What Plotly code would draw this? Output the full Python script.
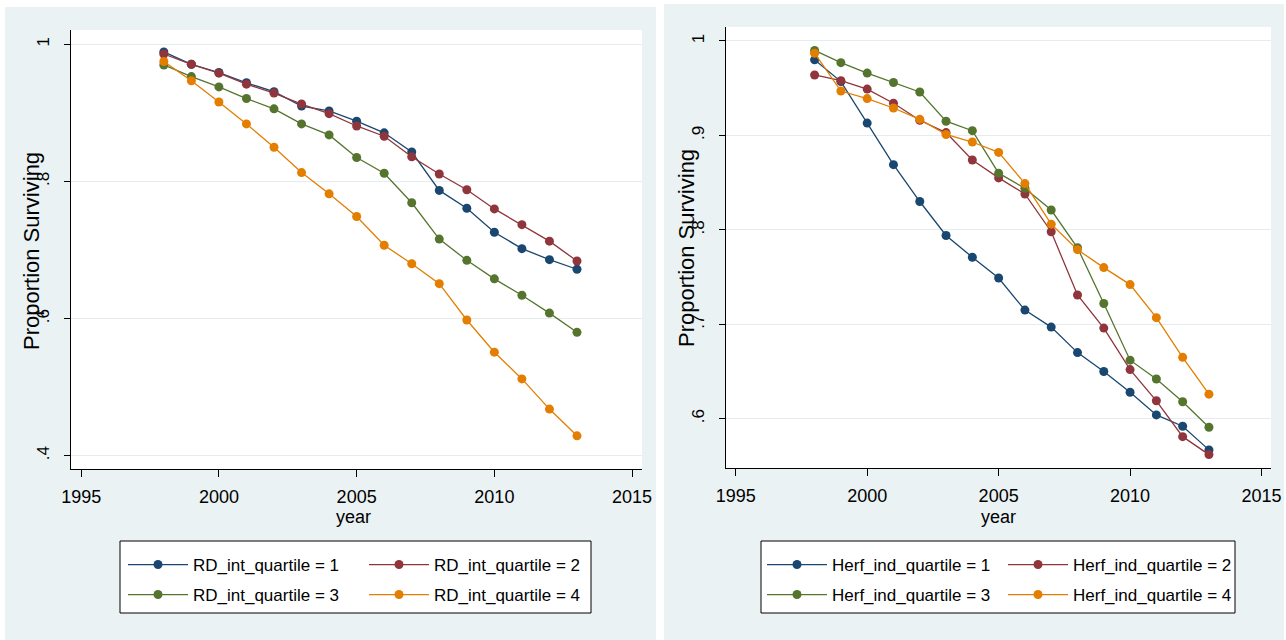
import subprocess
import plotly.graph_objects as go

# ---------------- data ----------------
years = [1998, 1999, 2000, 2001, 2002, 2003, 2004, 2005, 2006, 2007, 2008, 2009, 2010, 2011, 2012, 2013]

rd_q1 = [0.989, 0.971, 0.959, 0.944, 0.931, 0.910, 0.903, 0.888, 0.871, 0.843, 0.787, 0.761, 0.726, 0.702, 0.686, 0.672]
rd_q2 = [0.986, 0.971, 0.958, 0.942, 0.929, 0.913, 0.899, 0.881, 0.866, 0.836, 0.811, 0.788, 0.760, 0.737, 0.713, 0.684]
rd_q3 = [0.970, 0.953, 0.938, 0.921, 0.906, 0.884, 0.868, 0.835, 0.812, 0.769, 0.716, 0.685, 0.658, 0.634, 0.608, 0.580]
rd_q4 = [0.975, 0.947, 0.916, 0.884, 0.850, 0.813, 0.782, 0.749, 0.707, 0.680, 0.651, 0.598, 0.551, 0.512, 0.468, 0.429]

hf_q1 = [0.980, 0.957, 0.913, 0.869, 0.830, 0.794, 0.771, 0.749, 0.715, 0.697, 0.670, 0.650, 0.628, 0.604, 0.592, 0.567]
hf_q2 = [0.964, 0.958, 0.949, 0.934, 0.916, 0.903, 0.874, 0.855, 0.838, 0.798, 0.731, 0.696, 0.652, 0.619, 0.581, 0.562]
hf_q3 = [0.990, 0.977, 0.966, 0.956, 0.946, 0.915, 0.905, 0.860, 0.844, 0.821, 0.781, 0.722, 0.662, 0.642, 0.618, 0.591]
hf_q4 = [0.987, 0.947, 0.939, 0.929, 0.917, 0.901, 0.893, 0.882, 0.849, 0.806, 0.779, 0.760, 0.742, 0.707, 0.665, 0.626]

rd_names = ["RD_int_quartile = 1", "RD_int_quartile = 2", "RD_int_quartile = 3", "RD_int_quartile = 4"]
hf_names = ["Herf_ind_quartile = 1", "Herf_ind_quartile = 2", "Herf_ind_quartile = 3", "Herf_ind_quartile = 4"]

x_ticks = [1995, 2000, 2005, 2010, 2015]
x_ticktext = ["1995", "2000", "2005", "2010", "2015"]
rd_yticks = [0.4, 0.6, 0.8, 1.0]
rd_yticktext = [".4", ".6", ".8", "1"]
hf_yticks = [0.6, 0.7, 0.8, 0.9, 1.0]
hf_yticktext = [".6", ".7", ".8", ".9", "1"]

colors = ["#1a476f", "#90353b", "#55752f", "#e37e00"]

# ---------------- fonts ----------------
try:
    fclist = subprocess.run(["fc-list"], capture_output=True, text=True).stdout
except Exception:
    fclist = ""
if "Liberation Sans Narrow" in fclist:
    NF = "Liberation Sans Narrow"
    tick_size, leg_size = 21, 20
else:
    NF = "Liberation Sans"
    tick_size, leg_size = 18, 17
RF = "Liberation Sans"

W, H = 1286, 640


def px(x):
    return x / W


def py(y):
    return 1 - y / H


fig = go.Figure()

# legend assignment: row 1 -> quartiles 1,2 ; row 2 -> quartiles 3,4
rd_leg = ["legend", "legend", "legend3", "legend3"]
hf_leg = ["legend2", "legend2", "legend4", "legend4"]

for i, (vals, name) in enumerate(zip([rd_q1, rd_q2, rd_q3, rd_q4], rd_names)):
    fig.add_trace(go.Scatter(
        x=years, y=vals, name=name, mode="lines+markers",
        line=dict(color=colors[i], width=1.3),
        marker=dict(color=colors[i], size=9),
        xaxis="x", yaxis="y", legend=rd_leg[i],
    ))
for i, (vals, name) in enumerate(zip([hf_q1, hf_q2, hf_q3, hf_q4], hf_names)):
    fig.add_trace(go.Scatter(
        x=years, y=vals, name=name, mode="lines+markers",
        line=dict(color=colors[i], width=1.3),
        marker=dict(color=colors[i], size=9),
        xaxis="x2", yaxis="y2", legend=hf_leg[i],
    ))

BG = "#eaf2f3"
GRID = "#e4eced"

shapes = [
    # panel backgrounds
    dict(type="rect", xref="paper", yref="paper", x0=px(5), x1=px(656), y0=py(641), y1=py(7),
         fillcolor=BG, line=dict(width=0), layer="below"),
    dict(type="rect", xref="paper", yref="paper", x0=px(664), x1=px(1284), y0=py(641), y1=py(4),
         fillcolor=BG, line=dict(width=0), layer="below"),
    # plot regions
    dict(type="rect", xref="paper", yref="paper", x0=px(71), x1=px(642), y0=py(469), y1=py(30),
         fillcolor="white", line=dict(width=0), layer="below"),
    dict(type="rect", xref="paper", yref="paper", x0=px(726), x1=px(1271), y0=py(468), y1=py(27),
         fillcolor="white", line=dict(width=0), layer="below"),
    # legend boxes
    dict(type="rect", xref="paper", yref="paper", x0=px(120), x1=px(591), y0=py(613), y1=py(541),
         fillcolor="white", line=dict(color="black", width=1), layer="below"),
    dict(type="rect", xref="paper", yref="paper", x0=px(761), x1=px(1235), y0=py(613), y1=py(541),
         fillcolor="white", line=dict(color="black", width=1), layer="below"),
]

annotations = [
    dict(text="Proportion Surviving", x=px(31), y=py(251), xref="paper", yref="paper",
         showarrow=False, textangle=-90, font=dict(family=RF, size=22, color="black"),
         xanchor="center", yanchor="middle"),
    dict(text="Proportion Surviving", x=px(687), y=py(248), xref="paper", yref="paper",
         showarrow=False, textangle=-90, font=dict(family=RF, size=22, color="black"),
         xanchor="center", yanchor="middle"),
    dict(text="year", x=px(353), y=py(517), xref="paper", yref="paper",
         showarrow=False, font=dict(family=NF, size=tick_size, color="black"),
         xanchor="center", yanchor="middle"),
    dict(text="year", x=px(998), y=py(517), xref="paper", yref="paper",
         showarrow=False, font=dict(family=NF, size=tick_size, color="black"),
         xanchor="center", yanchor="middle"),
]

xax_common = dict(
    tickvals=x_ticks, ticktext=x_ticktext, showgrid=False, zeroline=False,
    showline=True, linecolor="black", linewidth=1, ticks="outside", ticklen=7,
    tickcolor="black", tickwidth=1, tickfont=dict(family=NF, size=tick_size, color="black"),
    range=[1994.63, 2015.36], ticklabelstandoff=4, automargin=False,
)
yax_common = dict(
    showgrid=True, gridcolor=GRID, gridwidth=1, zeroline=False,
    showline=True, linecolor="black", linewidth=1, ticks="outside", ticklen=6,
    tickcolor="black", tickwidth=1, tickangle=-90, ticklabelstandoff=8,
    tickfont=dict(family=RF, size=17, color="black"), automargin=False,
)

leg_common = dict(
    orientation="h", bgcolor="rgba(0,0,0,0)", borderwidth=0,
    font=dict(family=NF, size=leg_size, color="black"), itemwidth=60,
    entrywidth=166, entrywidthmode="pixels", xanchor="left", yanchor="middle",
    itemclick=False, itemdoubleclick=False,
)

fig.update_layout(
    template="none",
    width=W, height=H,
    margin=dict(l=0, r=0, t=0, b=0, pad=0, autoexpand=False),
    paper_bgcolor="white", plot_bgcolor="rgba(0,0,0,0)",
    showlegend=True,
    xaxis=dict(domain=[px(71), px(642)], anchor="y", **xax_common),
    yaxis=dict(domain=[py(469), py(30)], anchor="x", range=[0.3806, 1.021],
               tickvals=rd_yticks, ticktext=rd_yticktext, **yax_common),
    xaxis2=dict(domain=[px(726), px(1271)], anchor="y2", **xax_common),
    yaxis2=dict(domain=[py(468.3), py(26.7)], anchor="x2", range=[0.5475, 1.0151],
                tickvals=hf_yticks, ticktext=hf_yticktext, **yax_common),
    legend=dict(x=px(123), y=py(565), **leg_common),
    legend3=dict(x=px(123), y=py(595), **leg_common),
    legend2=dict(x=px(762), y=py(565), **leg_common),
    legend4=dict(x=px(762), y=py(595), **leg_common),
    shapes=shapes,
    annotations=annotations,
)

fig.write_html(
    "out.html",
    config={"displayModeBar": False},
    post_script="document.body.style.margin='0px';document.body.style.overflow='hidden';",
)
